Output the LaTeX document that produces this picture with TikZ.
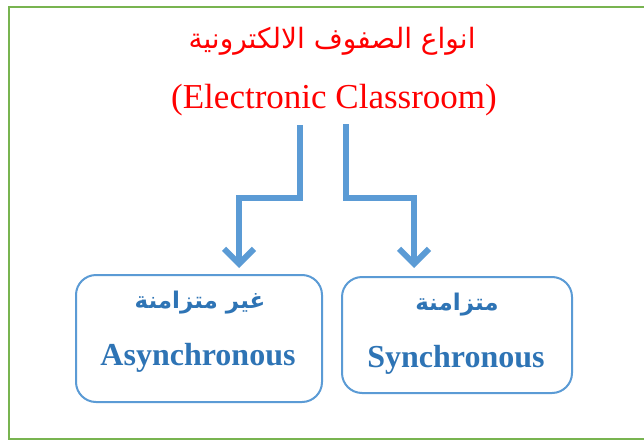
\documentclass[tikz,border=0pt]{standalone}
\usepackage{fontspec}
\setmainfont{Liberation Serif}
\newfontfamily\arabicfont[Script=Arabic]{DejaVu Sans}
\TeXXeTstate=1
\usetikzlibrary{arrows.meta}
\definecolor{framegreen}{RGB}{120,180,80}
\definecolor{arrowblue}{RGB}{91,155,213}
\definecolor{textblue}{RGB}{46,116,181}
\tikzset{
  frameline/.style={draw=framegreen, line width=2.5pt},
  titlear/.style={text=red, font=\arabicfont\fontsize{28}{34}\selectfont, inner sep=0pt},
  titleen/.style={text=red, font=\fontsize{35}{42}\selectfont, inner sep=0pt},
  box/.style={draw=arrowblue, line width=2pt, rounded corners=20pt, fill=white},
  boxar/.style={text=textblue, font=\arabicfont\bfseries\fontsize{23}{28}\selectfont, inner sep=0pt},
  boxen/.style={text=textblue, font=\bfseries\fontsize{32}{38}\selectfont, inner sep=0pt},
  arr/.style={draw=arrowblue, line width=6pt, -{Straight Barb[length=15pt,width=30pt]}}
}
\begin{document}
\begin{tikzpicture}[x=1pt,y=-1pt]
\useasboundingbox (0,0) rectangle (644,441);
\draw[frameline] (660,7) -- (9,7) -- (9,439) -- (660,439);
\node[titlear] (ar) at (332,41) {\beginR انواع الصفوف الالكترونية\endR};
\node[titleen] (en) at (334,100) {(Electronic Classroom)};
\node[box, minimum width=246pt, minimum height=127pt] (async) at (199,338.5) {};
\node[box, minimum width=230pt, minimum height=116pt] (sync) at (457,335) {};
\node[boxar] (asyncar) at (200,303) {\beginR غير متزامنة\endR};
\node[boxen] (asyncen) at (198,358) {Asynchronous};
\node[boxar] (syncar) at (457,305) {\beginR متزامنة\endR};
\node[boxen] (syncen) at (456,360) {Synchronous};
\coordinate (ls) at (300,125);
\coordinate (le) at (239,268);
\coordinate (rs) at (346,124);
\coordinate (re) at (414,268);
\draw[arr] (ls) -- (300,198) -| (le);
\draw[arr] (rs) -- (346,198) -| (re);
\end{tikzpicture}
\end{document}
